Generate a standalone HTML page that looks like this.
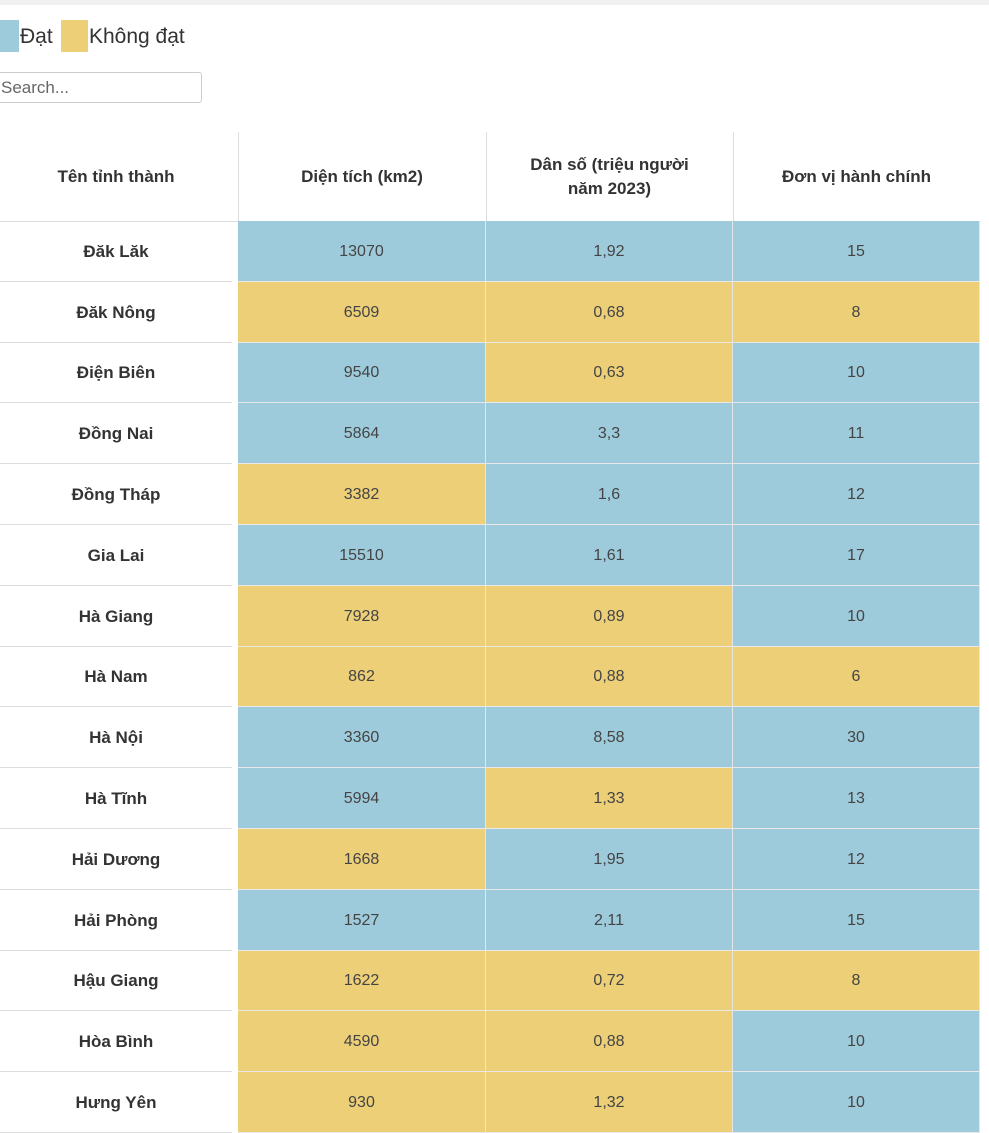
<!DOCTYPE html>
<html><head><meta charset="utf-8"><style>
body{margin:0;width:989px;height:1131px;overflow:hidden;background:#fff;font-family:"Liberation Sans","DejaVu Sans",sans-serif;color:#333;position:relative}
.top{position:absolute;left:0;top:0;width:989px;height:5px;background:#f0f0f0}
.sw{position:absolute;top:20px;height:32px;width:19px}
.lg{position:absolute;top:25px;font-size:21px;color:#333}
.search{position:absolute;left:-6px;top:72px;width:208px;height:31px;border:1px solid #ccc;border-radius:3px;box-sizing:border-box;font-size:17px;color:#666;padding:5px 0 0 6px}
.c{position:absolute;display:flex;align-items:center;justify-content:center;text-align:center;box-sizing:border-box}
.h{font-weight:bold;font-size:17px;color:#333;line-height:24px}
.n{font-weight:bold;font-size:17px;color:#333;border-bottom:1px solid #ddd}
.v{font-size:16px;color:#444;border-right:1px solid #e6e6e6;border-bottom:1px solid #e8e8e8}
.b{background:#9ecbdb}.y{background:#edcf78}
.vl{position:absolute;top:132px;width:1px;height:89px;background:#ddd}
</style></head><body>
<div class="top"></div>
<div class="sw b" style="left:0"></div><div class="lg" style="left:20px">Đạt</div>
<div class="sw y" style="left:61px;width:27px"></div><div class="lg" style="left:89px">Không đạt</div>
<div class="search">Search...</div>
<div class="c h" style="left:0;top:132px;width:232px;height:89px">Tên tỉnh thành</div>
<div class="c h" style="left:238px;top:132px;width:248px;height:89px">Diện tích (km2)</div>
<div class="c h" style="left:486px;top:132px;width:247px;height:89px">Dân số (triệu người<br>năm 2023)</div>
<div class="c h" style="left:733px;top:132px;width:247px;height:89px">Đơn vị hành chính</div>
<div class="vl" style="left:238px"></div><div class="vl" style="left:486px"></div><div class="vl" style="left:733px"></div>
<div style="position:absolute;left:0;top:221px;width:238px;height:1px;background:#ddd"></div>
<div id="rows"></div>
<script>
var d=[["Đăk Lăk","13070","b","1,92","b","15","b"],["Đăk Nông","6509","y","0,68","y","8","y"],["Điện Biên","9540","b","0,63","y","10","b"],["Đồng Nai","5864","b","3,3","b","11","b"],["Đồng Tháp","3382","y","1,6","b","12","b"],["Gia Lai","15510","b","1,61","b","17","b"],["Hà Giang","7928","y","0,89","y","10","b"],["Hà Nam","862","y","0,88","y","6","y"],["Hà Nội","3360","b","8,58","b","30","b"],["Hà Tĩnh","5994","b","1,33","y","13","b"],["Hải Dương","1668","y","1,95","b","12","b"],["Hải Phòng","1527","b","2,11","b","15","b"],["Hậu Giang","1622","y","0,72","y","8","y"],["Hòa Bình","4590","y","0,88","y","10","b"],["Hưng Yên","930","y","1,32","y","10","b"]];
var h="",rh=60.8;
d.forEach(function(r,i){var t=221+i*rh;
h+='<div class="c n" style="left:0;top:'+t+'px;width:232px;height:'+rh+'px;padding-top:2px">'+r[0]+'</div>';
var xs=[238,486,733],ws=[248,247,247];
for(var k=0;k<3;k++)h+='<div class="c v '+r[2+2*k]+'" style="left:'+xs[k]+'px;top:'+t+'px;width:'+ws[k]+'px;height:'+rh+'px;padding-top:2px">'+r[1+2*k]+'</div>';});
document.getElementById("rows").innerHTML=h;
</script>
</body></html>
